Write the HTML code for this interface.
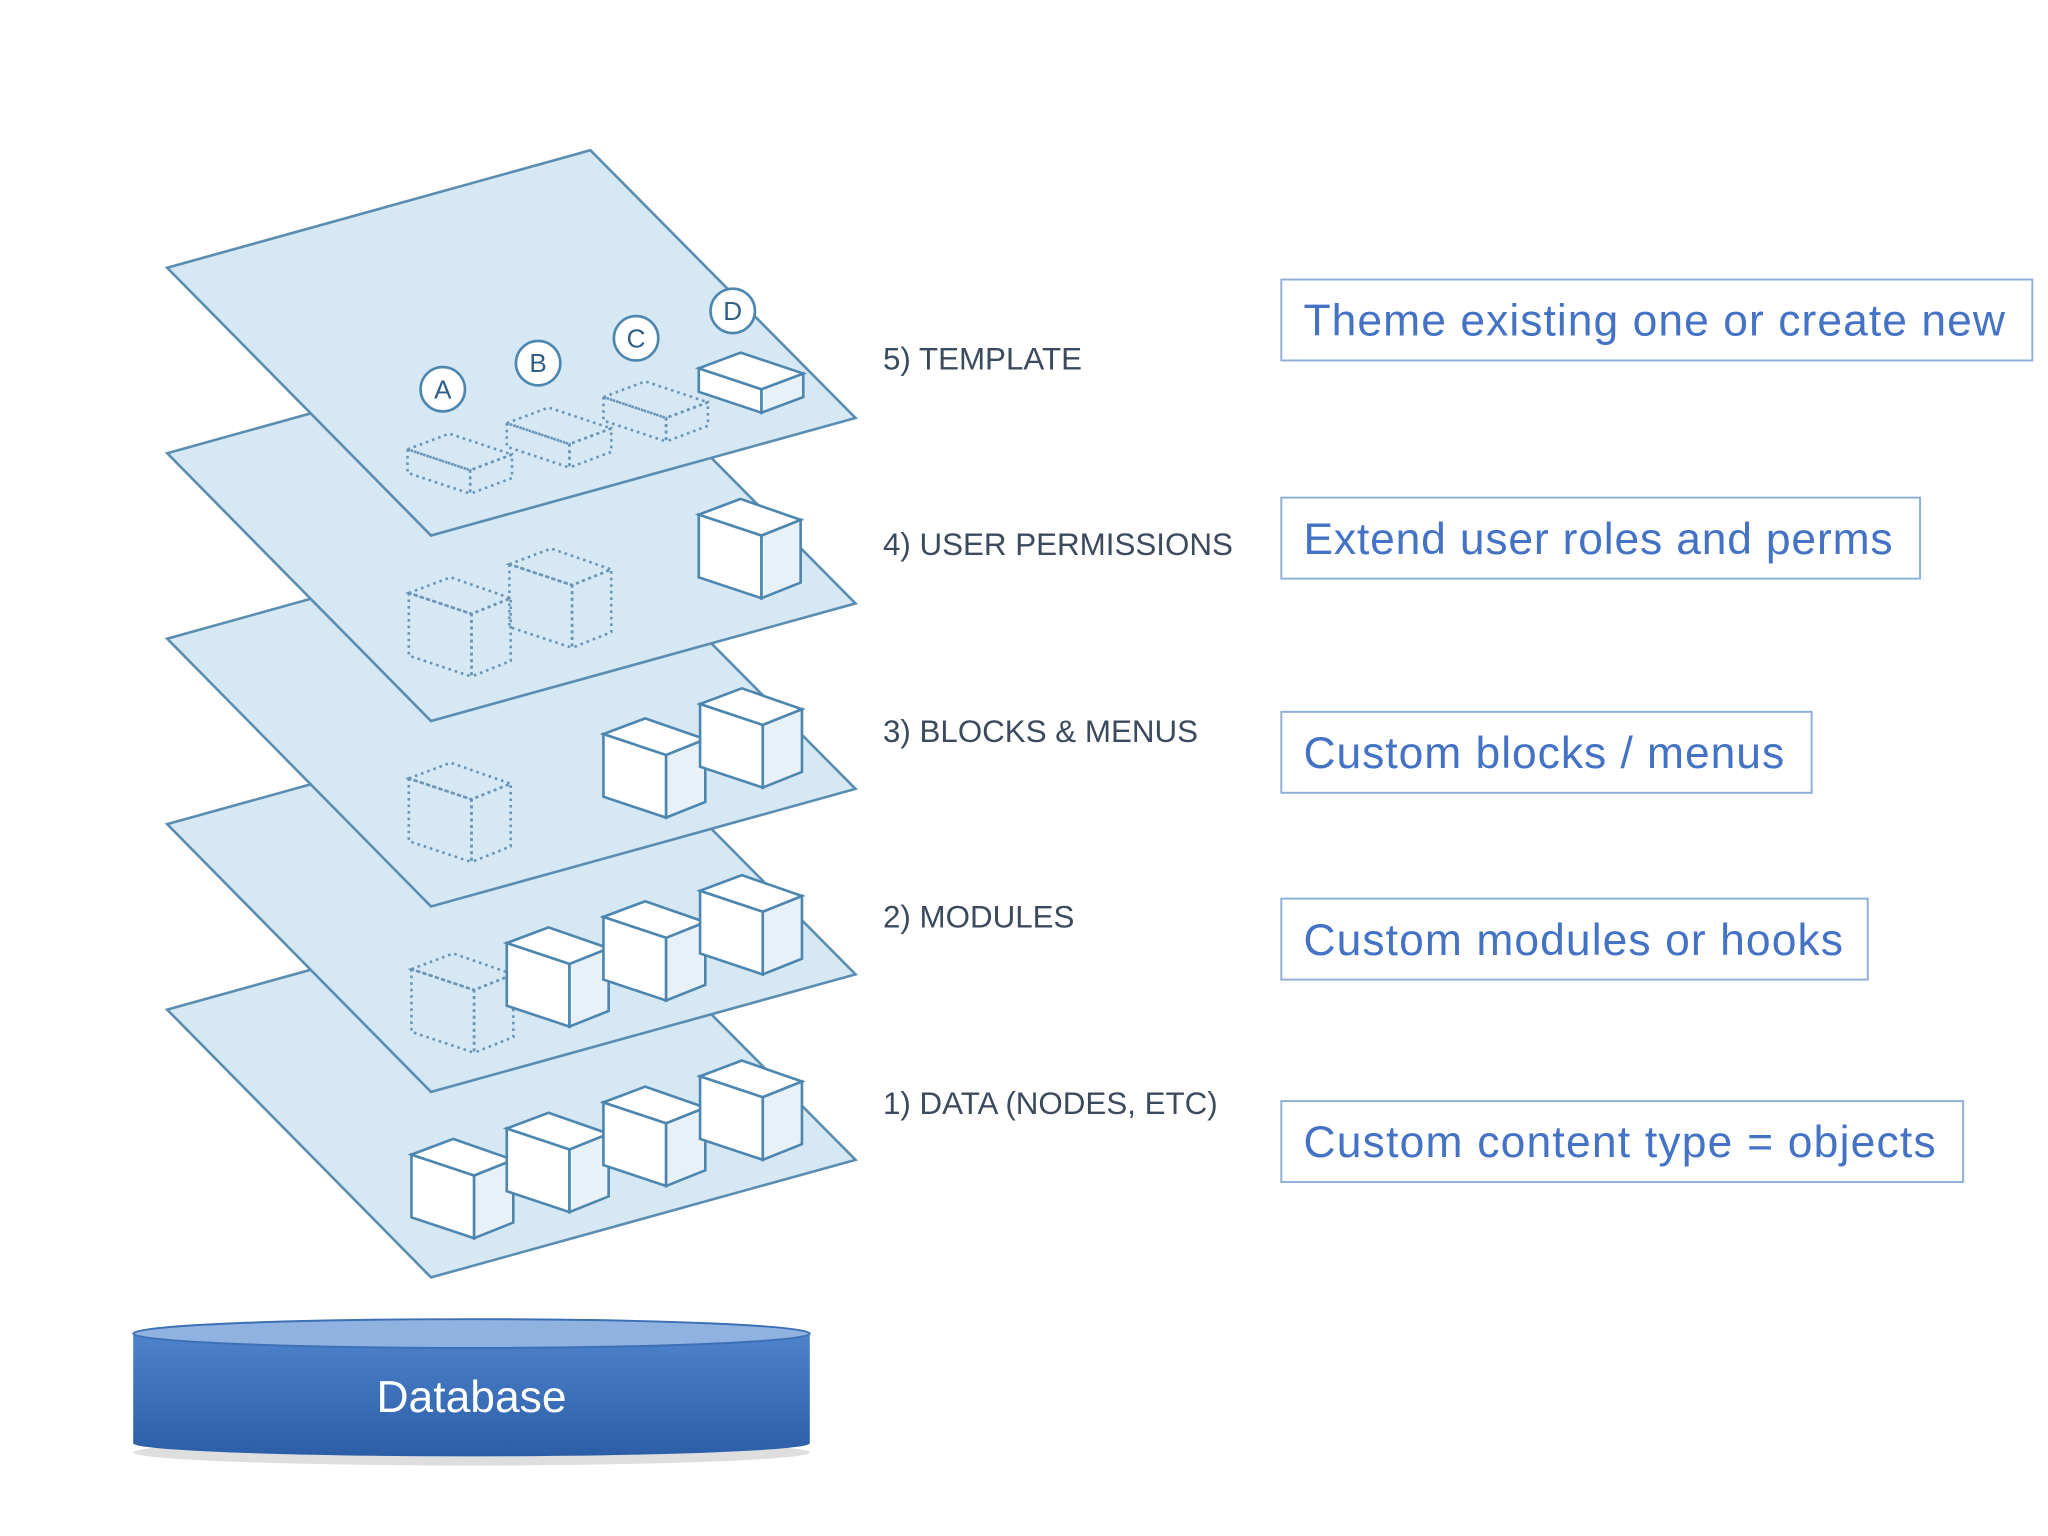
<!DOCTYPE html>
<html><head><meta charset="utf-8"><style>
html,body{margin:0;padding:0;background:#fff}
svg{display:block}
</style></head><body>
<svg width="2048" height="1536" viewBox="0 0 1568 1176" xmlns="http://www.w3.org/2000/svg">
<defs>
<g id="cube">
<path d="M0,14 L0,62 L48,78 L48,30 Z" fill="#fff" stroke="#4d86ae" stroke-width="2"/>
<path d="M48,30 L48,78 L78,66 L78,18 Z" fill="#e8f1f8" stroke="#4d86ae" stroke-width="2"/>
<path d="M0,14 L32,2 L78,18 L48,30 Z" fill="#fff" stroke="#4d86ae" stroke-width="2"/>
</g>
<g id="dcube" fill="none" stroke="#6b95b5" stroke-width="2" stroke-dasharray="2,3">
<path d="M0,14 L0,62 L48,78 L48,30 Z"/>
<path d="M48,30 L48,78 L78,66 L78,18 Z"/>
<path d="M0,14 L32,2 L78,18 L48,30 Z"/>
</g>
<g id="flat">
<path d="M0,12 L0,30 L48,46 L48,28 Z" fill="#fff" stroke="#4d86ae" stroke-width="2"/>
<path d="M48,28 L48,46 L80,34 L80,16 Z" fill="#e8f1f8" stroke="#4d86ae" stroke-width="2"/>
<path d="M0,12 L32,0 L80,16 L48,28 Z" fill="#fff" stroke="#4d86ae" stroke-width="2"/>
</g>
<g id="dflat" fill="none" stroke="#6b95b5" stroke-width="2" stroke-dasharray="2,3">
<path d="M0,12 L0,30 L48,46 L48,28 Z"/>
<path d="M48,28 L48,46 L80,34 L80,16 Z"/>
<path d="M0,12 L32,0 L80,16 L48,28 Z"/>
</g>
<linearGradient id="db" x1="0" y1="0" x2="0" y2="1">
<stop offset="0" stop-color="#4d82cc"/><stop offset="1" stop-color="#2b5ea6"/>
</linearGradient>
</defs>

<polygon points="128,773 452,683 655,888 330,978" fill="#d5e8f4" stroke="#5a8db0" stroke-width="2"/>
<use href="#cube" x="315" y="870"/><use href="#cube" x="388" y="850"/><use href="#cube" x="462" y="830"/><use href="#cube" x="536" y="810"/>
<polygon points="128,631 452,541 655,746 330,836" fill="#d5e8f4" stroke="#5a8db0" stroke-width="2"/>
<use href="#dcube" x="315" y="728"/><use href="#cube" x="388" y="708"/><use href="#cube" x="462" y="688"/><use href="#cube" x="536" y="668"/>
<polygon points="128,489 452,399 655,604 330,694" fill="#d5e8f4" stroke="#5a8db0" stroke-width="2"/>
<use href="#dcube" x="313" y="582"/><use href="#cube" x="462" y="548"/><use href="#cube" x="536" y="525"/>
<polygon points="128,347 452,257 655,462 330,552" fill="#d5e8f4" stroke="#5a8db0" stroke-width="2"/>
<use href="#dcube" x="313" y="440"/><use href="#dcube" x="390" y="418"/><use href="#cube" x="535" y="380"/>
<polygon points="128,205 452,115 655,320 330,410" fill="#d5e8f4" stroke="#5a8db0" stroke-width="2"/>
<use href="#dflat" x="312" y="332"/><use href="#dflat" x="388" y="312"/><use href="#dflat" x="462" y="292"/><use href="#flat" x="535" y="270"/>
<g fill="#fff" stroke="#4d86ae" stroke-width="2">
<circle cx="339" cy="298" r="17"/><circle cx="412" cy="278" r="17"/><circle cx="487" cy="259" r="17"/><circle cx="561" cy="238" r="17"/>
</g>
<g font-family="Liberation Sans, sans-serif" font-size="20" fill="#2f5f85" text-anchor="middle">
<text x="339" y="305">A</text><text x="412" y="285">B</text><text x="487" y="266">C</text><text x="561" y="245">D</text>
</g>

<g font-family="Liberation Sans, sans-serif" font-size="24" fill="#3b4a5c">
<text x="676" y="283">5) TEMPLATE</text>
<text x="676" y="425">4) USER PERMISSIONS</text>
<text x="676" y="568">3) BLOCKS &amp; MENUS</text>
<text x="676" y="710">2) MODULES</text>
<text x="676" y="853">1) DATA (NODES, ETC)</text>
</g>

<g fill="#fff" stroke="#8eb0d8" stroke-width="1.5">
<rect x="981" y="214" width="575" height="62"/>
<rect x="981" y="381" width="489" height="62"/>
<rect x="981" y="545" width="406" height="62"/>
<rect x="981" y="688" width="449" height="62"/>
<rect x="981" y="843" width="522" height="62"/>
</g>
<g font-family="Liberation Sans, sans-serif" font-size="34" fill="#4472c4" lengthAdjust="spacingAndGlyphs">
<text x="998" y="257" textLength="537">Theme existing one or create new</text>
<text x="998" y="424" textLength="451">Extend user roles and perms</text>
<text x="998" y="588" textLength="368">Custom blocks / menus</text>
<text x="998" y="731" textLength="413">Custom modules or hooks</text>
<text x="998" y="886" textLength="484">Custom content type = objects</text>
</g>

<ellipse cx="361" cy="1112" rx="259" ry="10" fill="#c8c8c8" opacity="0.6"/>
<path d="M102,1021 L102,1105 A259,10 0 0 0 620,1105 L620,1021 Z" fill="url(#db)"/>
<ellipse cx="361" cy="1021" rx="259" ry="11" fill="#8fb2e0" stroke="#3d6fb5" stroke-width="1.5"/>
<text x="361" y="1081" font-family="Liberation Sans, sans-serif" font-size="34" fill="#fff" text-anchor="middle">Database</text>
</svg>
</body></html>
